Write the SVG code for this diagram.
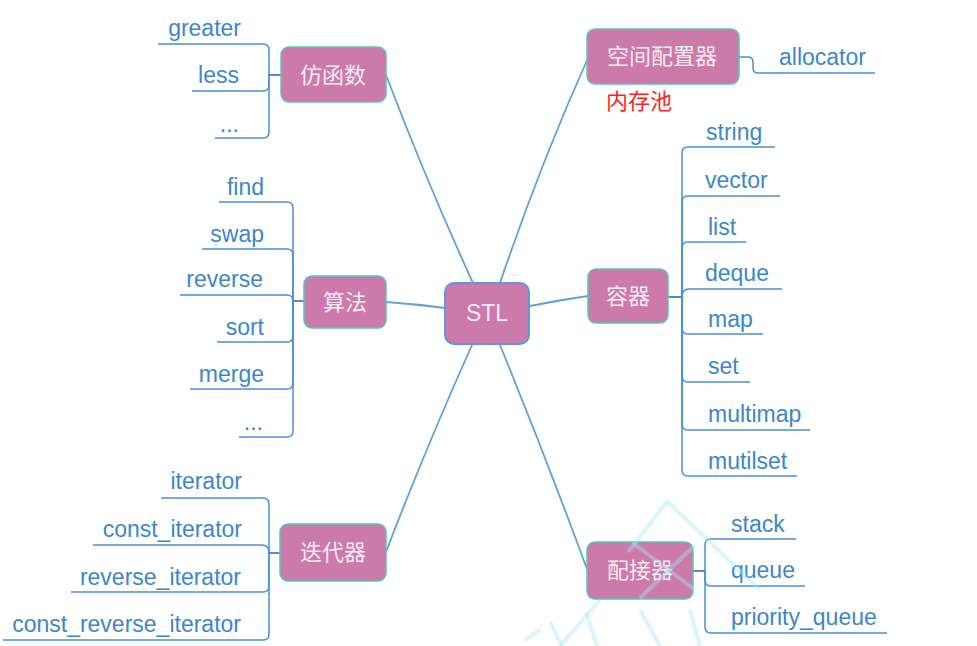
<svg xmlns="http://www.w3.org/2000/svg" width="977" height="646" viewBox="0 0 977 646">
<style>
.box{fill:#cb7aab;stroke:#5cc5b3;stroke-width:1.5}
.root{fill:#cb7aab;stroke:#5a9ad8;stroke-width:2}
.zh{font-family:"Noto Sans CJK SC","Noto Sans",sans-serif;font-size:22px;fill:#f7ebf3;text-anchor:middle}
.en{font-family:"Liberation Sans",Arial,sans-serif;font-size:23px;fill:#3d87c9}
.l{text-anchor:end}
.main{fill:none;stroke:#5fa2d9;stroke-width:1.8}
.br{fill:none;stroke:#4a90d0;stroke-width:1.5}
.wm{fill:none;stroke:#9fe8fa;stroke-width:4;opacity:0.4;stroke-linecap:butt}
</style>
<rect width="977" height="646" fill="#ffffff"/>
<g id="connectors">
<path class="main" d="M473 283 Q428 185 386 75"/>
<path class="main" d="M500 283 Q540 165 588 58"/>
<path class="main" d="M445 308 Q415 304 386 302"/>
<path class="main" d="M530 306 Q560 300 588 296"/>
<path class="main" d="M472 345 Q425 450 386 552"/>
<path class="main" d="M500 345 Q545 455 587 569"/>
<path class="br" d="M739 57 H748 Q753 57 753 62 V68 Q753 73 758 73 H875"/>
<path class="br" d="M281 75 H269 V50 Q269 44 263 44 H158"/>
<path class="br" d="M281 75 H269 V85 Q269 91 263 91 H192"/>
<path class="br" d="M281 75 H269 V132 Q269 138 263 138 H215"/>
<path class="br" d="M304 301 H293 V208 Q293 202 287 202 H219"/>
<path class="br" d="M304 301 H293 V255 Q293 249 287 249 H202"/>
<path class="br" d="M304 301 H293 Q293 295 287 295 H180"/>
<path class="br" d="M304 301 H293 V336 Q293 342 287 342 H217"/>
<path class="br" d="M304 301 H293 V383 Q293 389 287 389 H190"/>
<path class="br" d="M304 301 H293 V431 Q293 437 287 437 H239"/>
<path class="br" d="M280 553 H269 V504 Q269 498 263 498 H161"/>
<path class="br" d="M280 553 H269 Q269 545 262 545 H93"/>
<path class="br" d="M280 553 H269 V586 Q269 592 263 592 H71"/>
<path class="br" d="M280 553 H269 V634 Q269 640 263 640 H3"/>
<path class="br" d="M668 297 H682 V153 Q682 147 688 147 H775"/>
<path class="br" d="M668 297 H682 V202 Q682 196 688 196 H780"/>
<path class="br" d="M668 297 H682 V248 Q682 242 688 242 H746"/>
<path class="br" d="M668 297 H682 Q682 289 689 289 H782"/>
<path class="br" d="M668 297 H682 V328 Q682 334 688 334 H763"/>
<path class="br" d="M668 297 H682 V376 Q682 382 688 382 H750"/>
<path class="br" d="M668 297 H682 V424 Q682 430 688 430 H810"/>
<path class="br" d="M668 297 H682 V470 Q682 476 688 476 H797"/>
<path class="br" d="M693 571 H705 V545 Q705 539 711 539 H796"/>
<path class="br" d="M693 571 H705 V580 Q705 586 711 586 H805"/>
<path class="br" d="M693 571 H705 V627 Q705 633 711 633 H887"/>
</g>
<g id="stl"><rect class="root" x="445" y="283" width="84" height="61" rx="9"/><text class="zh" x="487" y="321" style="font-family:'Liberation Sans',Arial,sans-serif;font-size:23px">STL</text></g>
<g id="fanghanshu"><rect class="box" x="281" y="47" width="105" height="55" rx="8"/><text class="zh" x="333" y="83">仿函数</text>
<text class="en l" x="241" y="36">greater</text><text class="en l" x="239" y="83">less</text><text class="en l" x="239" y="132">...</text></g>
<g id="suanfa"><rect class="box" x="304" y="276" width="82" height="52" rx="8"/><text class="zh" x="345" y="310">算法</text>
<text class="en l" x="264" y="195">find</text><text class="en l" x="264" y="242">swap</text><text class="en l" x="263" y="287">reverse</text><text class="en l" x="264" y="335">sort</text><text class="en l" x="264" y="382">merge</text><text class="en l" x="263" y="430">...</text></g>
<g id="diedaiqi"><rect class="box" x="280" y="524" width="106" height="57" rx="8"/><text class="zh" x="333" y="560">迭代器</text>
<text class="en l" x="242" y="489">iterator</text><text class="en l" x="242" y="537">const_iterator</text><text class="en l" x="241" y="585">reverse_iterator</text><text class="en l" x="241" y="632">const_reverse_iterator</text></g>
<g id="kongjianpeizhiqi"><rect class="box" x="587" y="29" width="152" height="55" rx="8"/><text class="zh" x="662" y="64">空间配置器</text>
<text class="en" x="779" y="65">allocator</text>
<text x="606" y="109" style="font-family:'Noto Sans CJK SC',sans-serif;font-size:22px;fill:#ff2424">内存池</text></g>
<g id="rongqi"><rect class="box" x="588" y="269" width="80" height="54" rx="8"/><text class="zh" x="628" y="304">容器</text>
<text class="en" x="706" y="140">string</text><text class="en" x="705" y="188">vector</text><text class="en" x="708" y="235">list</text><text class="en" x="705" y="281">deque</text><text class="en" x="708" y="327">map</text><text class="en" x="708" y="374">set</text><text class="en" x="708" y="422">multimap</text><text class="en" x="708" y="469">mutilset</text></g>
<g id="peijieqi"><rect class="box" x="587" y="542" width="106" height="57" rx="8"/><text class="zh" x="640" y="578">配接器</text>
<text class="en" x="731" y="532">stack</text><text class="en" x="731" y="578">queue</text><text class="en" x="731" y="625">priority_queue</text></g>
<g id="watermark">
<path class="wm" d="M668 500 L628 552"/>
<path class="wm" d="M668 502 L760 590"/>
<path class="wm" d="M633 543 L695 590"/>
<path class="wm" d="M695 545 L640 598"/>
<path class="wm" d="M600 600 L560 646"/>
<path class="wm" d="M550 622 L562 646"/>
<path class="wm" d="M586 612 L597 646"/>
<path class="wm" d="M640 610 L660 646"/>
<path class="wm" d="M690 610 L700 646"/>
<path class="wm" d="M525 640 L540 630"/>
</g>
</svg>
